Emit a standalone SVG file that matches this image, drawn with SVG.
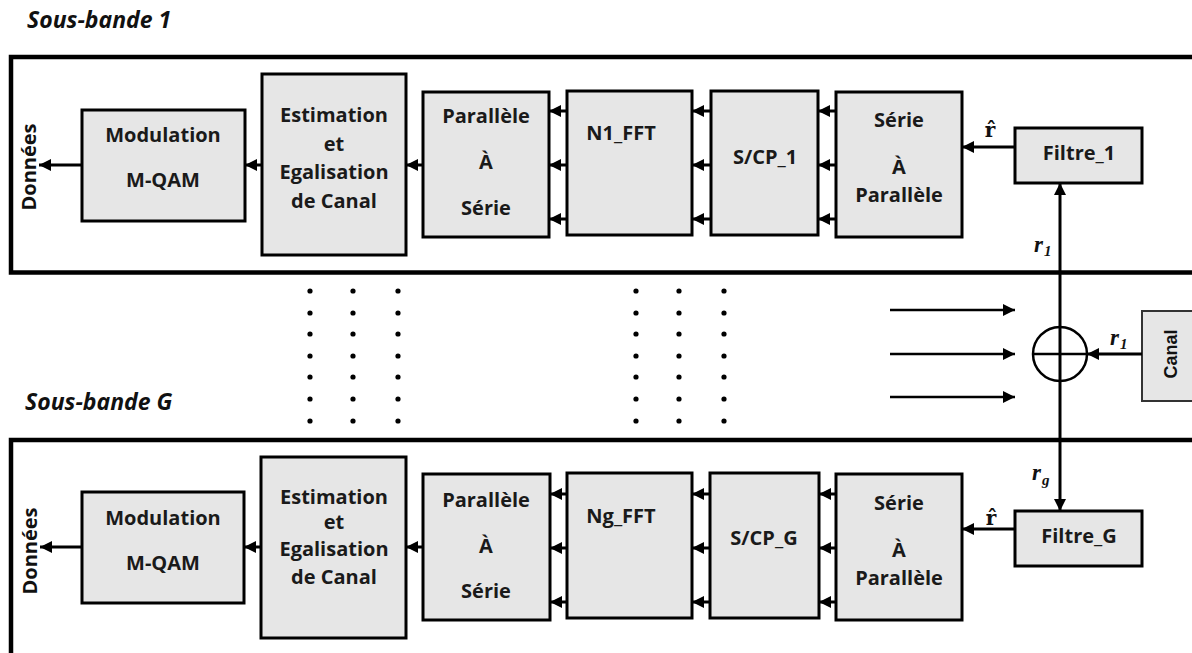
<svg xmlns="http://www.w3.org/2000/svg" width="1192" height="653" viewBox="0 0 1192 653">
  <defs>
    <style>
      .frame { fill: none; stroke: #000; stroke-width: 4.5; }
      .box { fill: #e6e6e6; stroke: #000; stroke-width: 3; }
      .lbl { font-family: "Open Sans", "Liberation Sans", sans-serif; font-weight: bold; font-size: 20px; fill: #1a1a1a; text-anchor: middle; }
      .band { font-family: "Open Sans", "Liberation Sans", sans-serif; font-weight: bold; font-style: italic; font-size: 23px; fill: #111; }
      .side { font-family: "Open Sans", "Liberation Sans", sans-serif; font-weight: bold; font-size: 20px; fill: #111; text-anchor: middle; }
      .canal { font-family: "Liberation Sans", Arial, sans-serif; font-weight: bold; font-size: 18px; fill: #111; text-anchor: middle; }
      .sym { font-family: "Liberation Serif", "DejaVu Serif", serif; font-style: italic; font-weight: bold; font-size: 23px; fill: #111; }
      .sub { font-family: "Liberation Serif", "DejaVu Serif", serif; font-weight: bold; font-size: 15px; fill: #111; }
      .hat { font-family: "DejaVu Serif", "Liberation Serif", serif; font-weight: bold; font-size: 20px; fill: #111; text-anchor: middle; }
      .wire { fill: none; stroke: #000; stroke-width: 3; }
      .dot { fill: #000; }
    </style>
    <marker id="ah" markerUnits="userSpaceOnUse" markerWidth="12" markerHeight="12" viewBox="0 0 12 12" refX="12" refY="6" orient="auto">
      <path d="M0,0 L12,6 L0,12 z" fill="#000"/>
    </marker>
  </defs>

  <rect width="1192" height="653" fill="#fff"/>

  <!-- band titles and frames -->
  <text class="band" x="27" y="28">Sous-bande 1</text>
  <text class="band" x="25" y="410">Sous-bande G</text>
  <rect class="frame" x="11" y="57" width="1200" height="215.5"/>
  <rect class="frame" x="11" y="440" width="1200" height="300"/>

  <!-- ===== sub-band 1 ===== -->
  <g id="donnees1"><text class="side" transform="translate(36,167) rotate(-90)" y="0">Données</text></g>
  <g id="mod1">
    <rect class="box" x="82" y="110" width="163" height="111"/>
    <text class="lbl" x="163" y="142">Modulation</text>
    <text class="lbl" x="163" y="187">M-QAM</text>
  </g>
  <g id="est1">
    <rect class="box" x="262" y="74" width="144" height="181"/>
    <text class="lbl" x="334" y="122">Estimation</text>
    <text class="lbl" x="334" y="151">et</text>
    <text class="lbl" x="334" y="179">Egalisation</text>
    <text class="lbl" x="334" y="208">de Canal</text>
  </g>
  <g id="ps1">
    <rect class="box" x="423" y="92" width="126" height="145"/>
    <text class="lbl" x="486" y="123">Parallèle</text>
    <text class="lbl" x="486" y="169">À</text>
    <text class="lbl" x="486" y="215">Série</text>
  </g>
  <g id="fft1">
    <rect class="box" x="567" y="91" width="125" height="144"/>
    <text class="lbl" x="621" y="140">N1_FFT</text>
  </g>
  <g id="scp1">
    <rect class="box" x="711" y="91" width="107" height="144"/>
    <text class="lbl" x="765" y="164">S/CP_1</text>
  </g>
  <g id="sp1">
    <rect class="box" x="836" y="92" width="126" height="145"/>
    <text class="lbl" x="899" y="127">Série</text>
    <text class="lbl" x="899" y="174">À</text>
    <text class="lbl" x="899" y="202">Parallèle</text>
  </g>
  <g id="filtre1">
    <rect class="box" x="1015" y="128" width="127" height="55"/>
    <text class="lbl" x="1079" y="160">Filtre_1</text>
  </g>

  <!-- ===== sub-band G ===== -->
  <g id="donneesG"><text class="side" transform="translate(37,551) rotate(-90)" y="0">Données</text></g>
  <g id="modG">
    <rect class="box" x="82" y="492" width="162" height="111"/>
    <text class="lbl" x="163" y="525">Modulation</text>
    <text class="lbl" x="163" y="570">M-QAM</text>
  </g>
  <g id="estG">
    <rect class="box" x="261" y="457" width="145" height="181"/>
    <text class="lbl" x="334" y="504">Estimation</text>
    <text class="lbl" x="334" y="529">et</text>
    <text class="lbl" x="334" y="556">Egalisation</text>
    <text class="lbl" x="334" y="584">de Canal</text>
  </g>
  <g id="psG">
    <rect class="box" x="423" y="474" width="127" height="146"/>
    <text class="lbl" x="486" y="507">Parallèle</text>
    <text class="lbl" x="486" y="553">À</text>
    <text class="lbl" x="486" y="598">Série</text>
  </g>
  <g id="fftG">
    <rect class="box" x="567" y="473" width="125" height="145"/>
    <text class="lbl" x="621" y="523">Ng_FFT</text>
  </g>
  <g id="scpG">
    <rect class="box" x="710" y="473" width="109" height="145"/>
    <text class="lbl" x="764" y="545">S/CP_G</text>
  </g>
  <g id="spG">
    <rect class="box" x="836" y="474" width="126" height="146"/>
    <text class="lbl" x="899" y="510">Série</text>
    <text class="lbl" x="899" y="557">À</text>
    <text class="lbl" x="899" y="585">Parallèle</text>
  </g>
  <g id="filtreG">
    <rect class="box" x="1015" y="511" width="127" height="55"/>
    <text class="lbl" x="1079" y="543">Filtre_G</text>
  </g>

  <!-- channel and summing junction -->
  <g id="canal">
    <rect x="1142" y="311" width="70" height="90" fill="#e6e6e6" stroke="#333" stroke-width="2"/>
    <text class="canal" transform="translate(1177,354) rotate(-90)" y="0">Canal</text>
  </g>
  <g id="somme">
    <circle cx="1060" cy="354" r="27" fill="none" stroke="#000" stroke-width="2.5"/>
    <line x1="1033" y1="354" x2="1087" y2="354" stroke="#000" stroke-width="2.5"/>
  </g>

  <!-- ellipsis dots between the two sub-bands -->
  <g id="points">
    <g class="dot">
      <circle cx="310" cy="291" r="2.6"/><circle cx="353" cy="291" r="2.6"/><circle cx="398" cy="291" r="2.6"/>
      <circle cx="310" cy="313" r="2.6"/><circle cx="353" cy="313" r="2.6"/><circle cx="398" cy="313" r="2.6"/>
      <circle cx="310" cy="334" r="2.6"/><circle cx="353" cy="334" r="2.6"/><circle cx="398" cy="334" r="2.6"/>
      <circle cx="310" cy="356" r="2.6"/><circle cx="353" cy="356" r="2.6"/><circle cx="398" cy="356" r="2.6"/>
      <circle cx="310" cy="377" r="2.6"/><circle cx="353" cy="377" r="2.6"/><circle cx="398" cy="377" r="2.6"/>
      <circle cx="310" cy="399" r="2.6"/><circle cx="353" cy="399" r="2.6"/><circle cx="398" cy="399" r="2.6"/>
      <circle cx="310" cy="421" r="2.6"/><circle cx="353" cy="421" r="2.6"/><circle cx="398" cy="421" r="2.6"/>
      <circle cx="636" cy="291" r="2.6"/><circle cx="679" cy="291" r="2.6"/><circle cx="724" cy="291" r="2.6"/>
      <circle cx="636" cy="313" r="2.6"/><circle cx="679" cy="313" r="2.6"/><circle cx="724" cy="313" r="2.6"/>
      <circle cx="636" cy="334" r="2.6"/><circle cx="679" cy="334" r="2.6"/><circle cx="724" cy="334" r="2.6"/>
      <circle cx="636" cy="356" r="2.6"/><circle cx="679" cy="356" r="2.6"/><circle cx="724" cy="356" r="2.6"/>
      <circle cx="636" cy="377" r="2.6"/><circle cx="679" cy="377" r="2.6"/><circle cx="724" cy="377" r="2.6"/>
      <circle cx="636" cy="399" r="2.6"/><circle cx="679" cy="399" r="2.6"/><circle cx="724" cy="399" r="2.6"/>
      <circle cx="636" cy="421" r="2.6"/><circle cx="679" cy="421" r="2.6"/><circle cx="724" cy="421" r="2.6"/>
    </g>
  </g>

  <!-- connectors -->
  <g id="connectors" class="wire" marker-end="url(#ah)">
    <!-- sub-band 1 -->
    <line x1="82" y1="165" x2="39" y2="165"/>
    <line x1="262" y1="165" x2="245" y2="165"/>
    <line x1="423" y1="165" x2="406" y2="165"/>
    <line x1="567" y1="111" x2="549" y2="111"/>
    <line x1="567" y1="165" x2="549" y2="165"/>
    <line x1="567" y1="219" x2="549" y2="219"/>
    <line x1="711" y1="111" x2="692" y2="111"/>
    <line x1="711" y1="165" x2="692" y2="165"/>
    <line x1="711" y1="219" x2="692" y2="219"/>
    <line x1="836" y1="111" x2="818" y2="111"/>
    <line x1="836" y1="165" x2="818" y2="165"/>
    <line x1="836" y1="219" x2="818" y2="219"/>
    <line x1="1015" y1="147" x2="962" y2="147"/>
    <!-- sub-band G -->
    <line x1="82" y1="547" x2="40" y2="547"/>
    <line x1="261" y1="547" x2="244" y2="547"/>
    <line x1="423" y1="547" x2="406" y2="547"/>
    <line x1="567" y1="494" x2="550" y2="494"/>
    <line x1="567" y1="548" x2="550" y2="548"/>
    <line x1="567" y1="602" x2="550" y2="602"/>
    <line x1="710" y1="494" x2="692" y2="494"/>
    <line x1="710" y1="548" x2="692" y2="548"/>
    <line x1="710" y1="602" x2="692" y2="602"/>
    <line x1="836" y1="494" x2="819" y2="494"/>
    <line x1="836" y1="548" x2="819" y2="548"/>
    <line x1="836" y1="602" x2="819" y2="602"/>
    <line x1="1015" y1="529" x2="962" y2="529"/>
    <!-- channel to junction, and other sub-bands feeding in -->
    <line x1="1142" y1="354" x2="1087" y2="354"/>
    <line x1="890" y1="310" x2="1015" y2="310" stroke-width="2.5"/>
    <line x1="890" y1="354" x2="1015" y2="354" stroke-width="2.5"/>
    <line x1="890" y1="397" x2="1015" y2="397" stroke-width="2.5"/>
    <!-- received signal distributed to each filter -->
    <line x1="1060" y1="354" x2="1060" y2="183"/>
    <line x1="1060" y1="354" x2="1060" y2="511"/>
  </g>

  <!-- signal labels -->
  <g id="labels">
    <text class="hat" x="990" y="137">r̂</text>
    <text class="hat" x="991" y="525">r̂</text>
    <text class="sym" x="1034" y="252">r<tspan class="sub" dx="1" dy="4">1</tspan></text>
    <text class="sym" x="1032" y="480">r<tspan class="sub" dx="1" dy="5">g</tspan></text>
    <text class="sym" x="1110" y="345">r<tspan class="sub" dx="1" dy="4">1</tspan></text>
  </g>
</svg>
